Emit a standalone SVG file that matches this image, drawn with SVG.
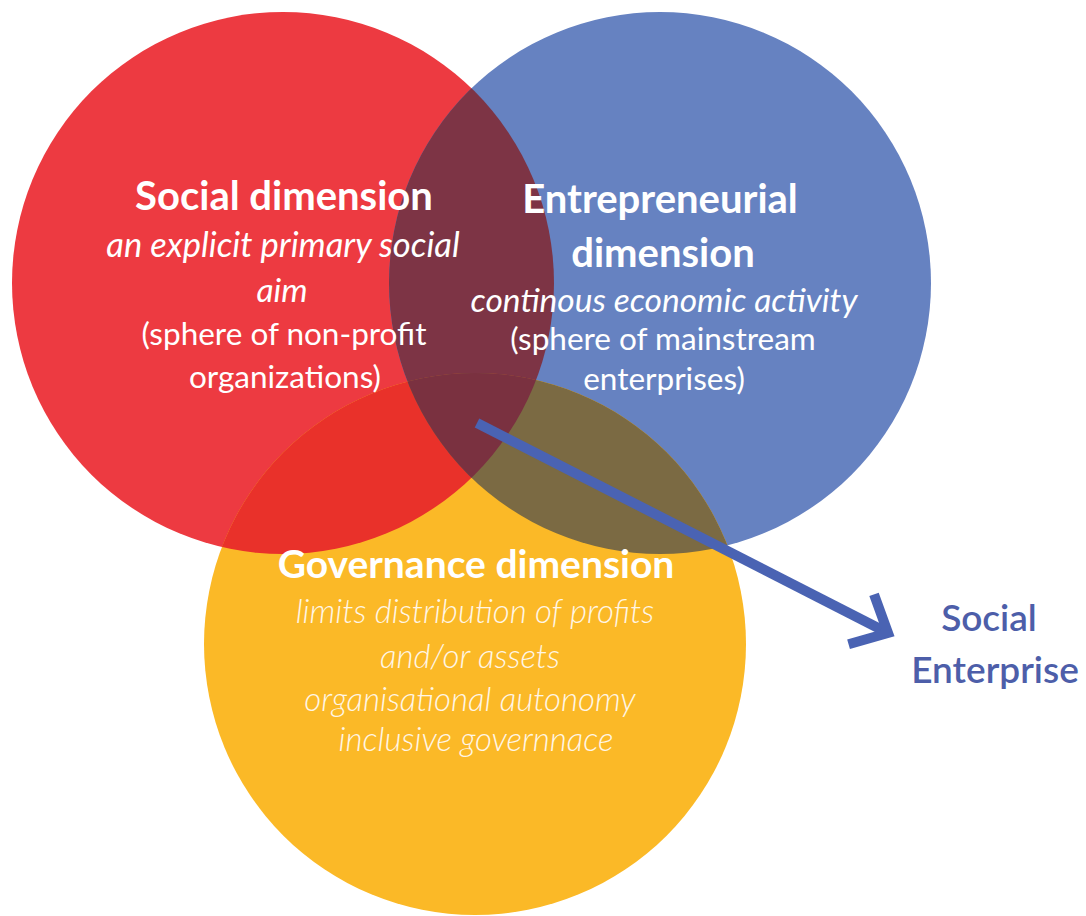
<svg xmlns="http://www.w3.org/2000/svg" width="1086" height="916" viewBox="0 0 1086 916">
<style>
  .t { font-family: Lato, "Noto Sans", "Liberation Sans", sans-serif; fill: #ffffff; text-anchor: middle; }
  .h { font-weight: 700; font-size: 40px; }
  .i { font-style: italic; font-size: 33.5px; }
  .il { font-style: italic; font-weight: 300; font-size: 33px; fill: #fff6e6; }
  .r { font-size: 31.5px; }
  .se { font-family: Lato, "Noto Sans", "Liberation Sans", sans-serif; font-weight: 600; font-size: 37px; fill: #4d5ea9; text-anchor: middle; }
  .arrow { fill: none; stroke: #4a63b3; stroke-width: 10; stroke-linejoin: miter; }
</style>
<defs>
  <clipPath id="clipRed"><circle cx="283" cy="283" r="271"/></clipPath>
  <clipPath id="clipBlue"><circle cx="660" cy="283" r="271"/></clipPath>
  <marker id="chevron" markerUnits="userSpaceOnUse" markerWidth="80" markerHeight="80" viewBox="-40 -40 80 80" refX="0" refY="0" orient="auto" overflow="visible">
    <path class="arrow" d="M -30 -28 L 0 0 L -30 28"/>
  </marker>
</defs>
<rect width="1086" height="916" fill="#ffffff"/>
<g id="circles">
  <circle id="circle-social" cx="283" cy="283" r="271" fill="#ed3a41"/>
  <circle id="circle-entrepreneurial" cx="660" cy="283" r="271" fill="#6682c1"/>
  <circle id="circle-governance" cx="475" cy="644" r="271" fill="#fbb927"/>
</g>
<g id="overlaps">
  <circle cx="660" cy="283" r="271" fill="#7d3445" clip-path="url(#clipRed)"/>
  <circle cx="475" cy="644" r="271" fill="#e9312a" clip-path="url(#clipRed)"/>
  <circle cx="475" cy="644" r="271" fill="#7b6a43" clip-path="url(#clipBlue)"/>
  <g clip-path="url(#clipRed)">
    <circle cx="475" cy="644" r="271" fill="#7a3140" clip-path="url(#clipBlue)"/>
  </g>
</g>
<g id="node-social" class="t">
  <text class="t h" x="284" y="210">Social dimension</text>
  <text class="t i" style="font-size:34.5px" x="283" y="257">an explicit primary social</text>
  <text class="t i" x="282" y="302">aim</text>
  <text class="t r" x="284" y="345">(sphere of non-profit</text>
  <text class="t r" x="285" y="388">organizations)</text>
</g>
<g id="node-entrepreneurial" class="t">
  <text class="t h" x="660" y="213">Entrepreneurial</text>
  <text class="t h" x="663" y="267">dimension</text>
  <text class="t i" x="664" y="312">continous economic activity</text>
  <text class="t r" x="663" y="350">(sphere of mainstream</text>
  <text class="t r" x="664" y="390">enterprises)</text>
</g>
<g id="node-governance" class="t">
  <text class="t h" style="font-size:39px" x="476" y="578">Governance dimension</text>
  <text class="t il" x="475" y="623">limits distribution of profits</text>
  <text class="t il" x="470" y="668">and/or assets</text>
  <text class="t il" x="470" y="711">organisational autonomy</text>
  <text class="t il" x="476" y="751">inclusive governnace</text>
</g>
<g id="connectors">
  <path class="arrow" d="M 477 423 L 888 633" marker-end="url(#chevron)"/>
</g>
<g id="node-social-enterprise">
  <text class="se" x="989" y="631">Social</text>
  <text class="se" x="995" y="683">Enterprise</text>
</g>
</svg>
